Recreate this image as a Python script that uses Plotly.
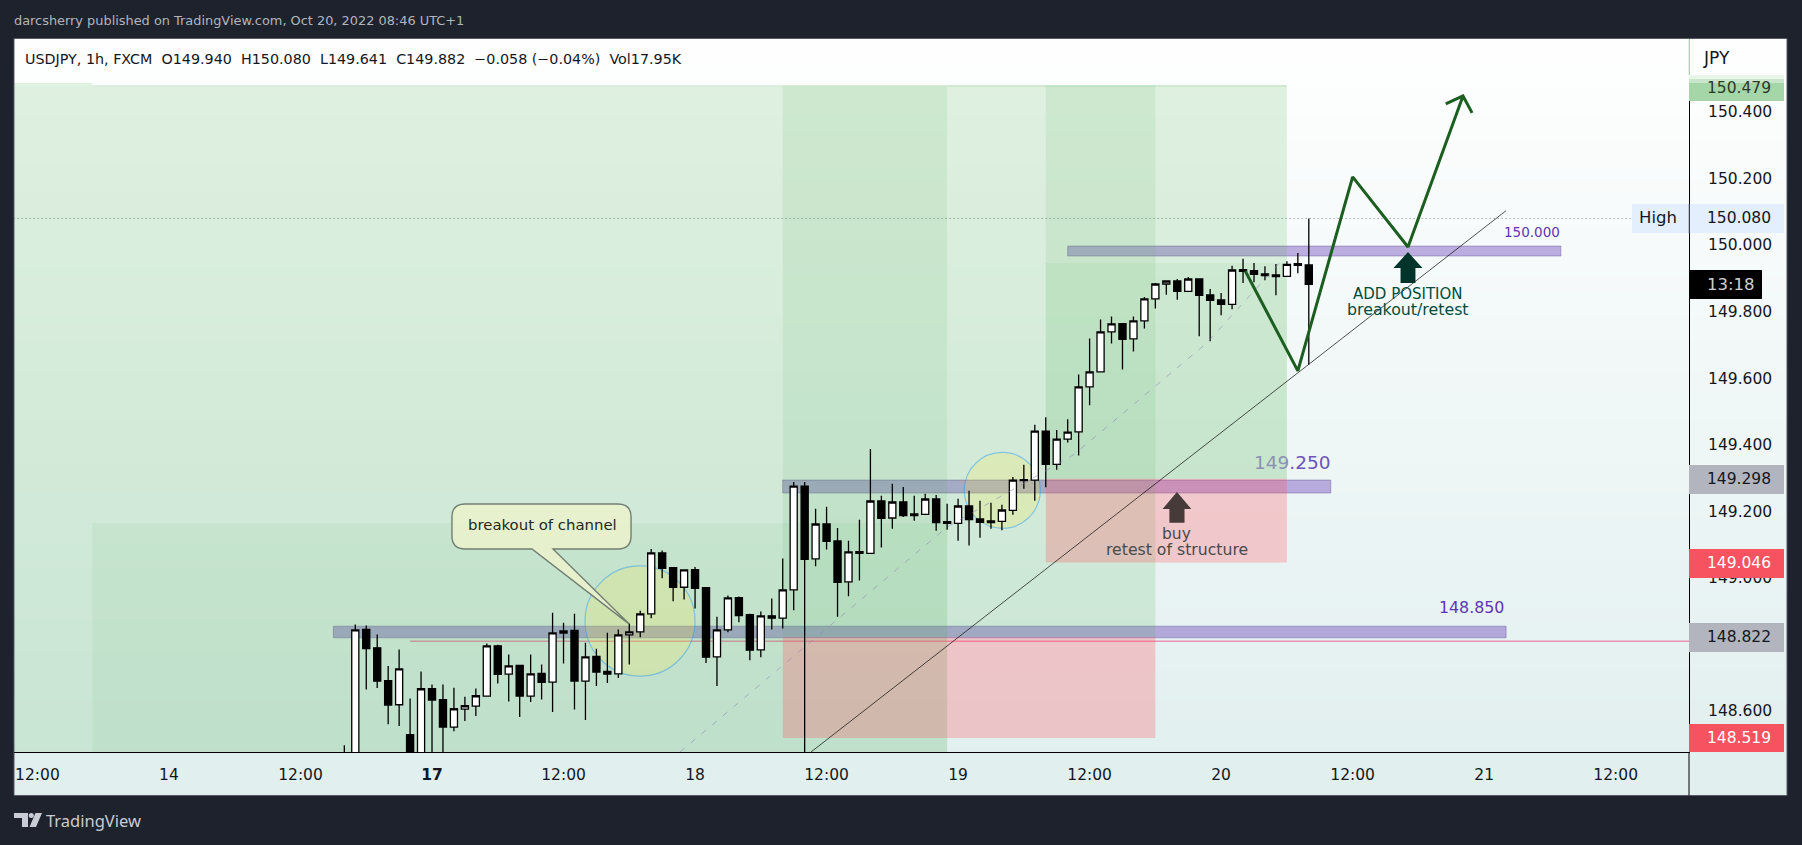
import base64, struct, zlib
import plotly.graph_objects as go

# ---------- data ----------
bar_index = list(range(-8, 81))
opens = [148.44,148.40,148.845,148.79,148.691,148.619,148.529,148.44,148.667,148.634,
         148.552,148.606,148.615,148.645,148.796,148.711,148.737,148.645,148.713,148.687,
         148.834,148.842,148.69,148.764,148.719,148.712,148.829,148.838,148.892,149.075,
         149.031,148.972,149.025,148.971,148.763,148.844,148.941,148.89,148.784,148.886,
         148.879,148.964,149.276,149.057,149.162,149.111,148.988,149.079,149.074,149.231,
         149.18,149.228,149.192,149.191,149.237,149.169,149.164,149.216,149.177,149.171,
         149.17,149.203,149.295,149.294,149.441,149.341,149.417,149.439,149.574,149.619,
         149.739,149.764,149.718,149.772,149.838,149.883,149.892,149.861,149.898,149.85,
         149.835,149.822,149.926,149.923,149.913,149.91,149.906,149.944,149.940]
highs = [148.497,148.86,148.857,148.83,148.735,148.785,148.638,148.719,148.68,148.68,
         148.67,148.643,148.668,148.803,148.799,148.77,148.739,148.77,148.74,148.895,
         148.865,148.892,148.805,148.787,148.835,148.845,148.863,148.901,149.087,149.082,
         149.033,149.026,149.033,148.971,148.883,148.947,148.944,148.892,148.899,148.938,
         149.058,149.288,149.288,149.208,149.214,149.15,149.112,149.175,149.387,149.247,
         149.283,149.273,149.247,149.253,149.249,149.223,149.238,149.262,149.232,149.226,
         149.22,149.303,149.34,149.46,149.483,149.444,149.477,149.611,149.719,149.776,
         149.785,149.766,149.785,149.844,149.886,149.893,149.898,149.904,149.899,149.868,
         149.856,149.938,149.959,149.946,149.936,149.943,149.951,149.976,150.080]
lows = [148.38,148.38,148.665,148.669,148.56,148.555,148.40,148.40,148.45,148.45,
        148.539,148.57,148.585,148.645,148.683,148.629,148.582,148.627,148.635,148.597,
        148.743,148.605,148.573,148.675,148.684,148.699,148.74,148.822,148.879,148.999,
        148.93,148.935,148.908,148.744,148.675,148.837,148.867,148.753,148.762,148.845,
        148.848,148.903,148.40,149.035,149.085,148.883,148.945,148.992,149.074,149.091,
        149.148,149.183,149.172,149.191,149.142,149.145,149.112,149.097,149.121,149.148,
        149.143,149.19,149.268,149.232,149.272,149.325,149.407,149.368,149.519,149.619,
        149.704,149.626,149.68,149.749,149.809,149.851,149.836,149.861,149.726,149.711,
        149.789,149.807,149.886,149.888,149.894,149.849,149.904,149.915,149.641]
closes = [148.42,148.844,148.788,148.69,148.618,148.727,148.43,148.667,148.633,148.552,
          148.607,148.616,148.646,148.796,148.71,148.736,148.645,148.712,148.686,148.835,
          148.841,148.69,148.763,148.717,148.711,148.829,148.838,148.892,149.075,149.029,
          148.972,149.024,148.969,148.762,148.844,148.94,148.887,148.783,148.886,148.879,
          148.964,149.276,149.056,149.162,149.11,148.987,149.078,149.074,149.231,149.179,
          149.228,149.187,149.187,149.237,149.166,149.164,149.216,149.175,149.167,149.166,
          149.204,149.294,149.292,149.441,149.341,149.417,149.438,149.574,149.619,149.739,
          149.763,149.717,149.772,149.838,149.883,149.892,149.861,149.898,149.849,149.834,
          149.822,149.925,149.921,149.912,149.908,149.905,149.942,149.939,149.882]

time_tick_pos = [-36,-24,-12,0,12,24,36,48,60,72,84,96,108]
time_tick_text = ["12:00","14","12:00","<b>17</b>","12:00","18","12:00","19","12:00","20","12:00","21","12:00"]
price_ticks = [150.4,150.2,150.0,149.8,149.6,149.4,149.2,149.0,148.8,148.6]

# drawing tools, in bar index / price units
zigzag_x = [74.2,79.0,84.0,89.05,94.07,92.5,94.07,94.9]
zigzag_y = [149.922,149.622,150.205,149.994,150.448,150.424,150.448,150.397]
trend_x = [34.58,97.99]
trend_y = [148.477,150.103]
dash_x = [22.63,47,58.5,70.7,77.4]
dash_y = [148.477,149.153,149.369,149.706,149.949]

# ---------- layout geometry ----------
W, H = 1802, 845
L, R, T, B = 14, 1689, 39, 752
x_range = [-38.14, 114.69]
y_range = [148.477, 150.619]
def PX(v): return (v - L) / (R - L)
def PY(v): return (B - v) / (B - T)

def gradient_png():
    rows = []
    n = 757
    for i in range(n):
        f = i / (n - 1)
        c = (int(255 + (225 - 255) * f), int(255 + (239 - 255) * f), int(255 + (239 - 255) * f))
        rows.append(b"\x00" + bytes(c) * 4)
    def chunk(t, d):
        return struct.pack(">I", len(d)) + t + d + struct.pack(">I", zlib.crc32(t + d) & 0xffffffff)
    raw = b"\x89PNG\r\n\x1a\n" + chunk(b"IHDR", struct.pack(">IIBBBBB", 4, n, 8, 2, 0, 0, 0)) \
        + chunk(b"IDAT", zlib.compress(b"".join(rows))) + chunk(b"IEND", b"")
    return "data:image/png;base64," + base64.b64encode(raw).decode()

FONT = "DejaVu Sans"
def GREEN(a): return f"rgba(76,175,80,{a})"
RED = "rgba(255,82,95,0.28)"
BAR = "rgba(103,58,183,0.40)"
BARL = "rgba(90,70,140,0.40)"

shapes = []
def rect(x0, x1, y0, y1, fill, line=None, layer="below"):
    shapes.append(dict(type="rect", xref="x", yref="y", x0=x0, x1=x1, y0=y0, y1=y1,
                       fillcolor=fill, layer=layer,
                       line=dict(width=1 if line else 0, color=line or "rgba(0,0,0,0)")))
def prect(x0, x1, y0, y1, fill):
    shapes.append(dict(type="rect", xref="paper", yref="paper", x0=PX(x0), x1=PX(x1), y0=PY(y0), y1=PY(y1),
                       fillcolor=fill, layer="above", line=dict(width=0)))
def pline(x0, y0, x1, y1, color, width=1):
    shapes.append(dict(type="line", xref="paper", yref="paper", x0=PX(x0), x1=PX(x1), y0=PY(y0), y1=PY(y1),
                       layer="above", line=dict(color=color, width=width)))

# level bars first, zones on top of them
rect(-9, 98, 148.82, 148.855, BAR, BARL)
rect(32, 82, 149.255, 149.294, BAR, BARL)
rect(58, 103, 149.967, 149.997, BAR, BARL)
shapes.append(dict(type="line", xref="x", yref="y", x0=-2, x1=114.69, y0=148.81, y1=148.81, layer="below",
                   line=dict(color="rgba(233,30,99,0.45)", width=1.5)))

# position zones
rect(-40, -31, 150.476, 150.487, GREEN(0.17))
rect(-40, 47, 148.3, 150.476, GREEN(0.17))
rect(-31, 47, 148.3, 149.165, GREEN(0.07))
rect(32, 47, 148.822, 150.479, GREEN(0.11))
rect(47, 66, 148.822, 150.479, GREEN(0.17))
rect(32, 66, 148.519, 148.822, RED)
rect(56, 66, 149.298, 150.479, GREEN(0.11))
rect(66, 78, 149.298, 150.479, GREEN(0.17))
rect(56, 78, 149.298, 149.946, GREEN(0.08))
rect(56, 78, 149.046, 149.298, RED)
for x0, x1 in [(-31, 32), (32, 78)]:
    shapes.append(dict(type="line", xref="x", yref="y", x0=x0, x1=x1, y0=150.478, y1=150.478, layer="below",
                       line=dict(color=GREEN(0.3), width=1)))

# circles
for cx0, cx1, cy0, cy1 in [(13.96, 24.0, 148.705, 149.036), (48.57, 55.5, 149.149, 149.377)]:
    shapes.append(dict(type="circle", xref="x", yref="y", x0=cx0, x1=cx1, y0=cy0, y1=cy1, layer="below",
                       fillcolor="rgba(255,235,59,0.20)", line=dict(color="rgba(33,150,243,0.45)", width=1.2)))

# high dotted line
shapes.append(dict(type="line", xref="x", yref="y", x0=-40, x1=109.5, y0=150.08, y1=150.08, layer="below",
                   line=dict(color="rgba(90,90,90,0.8)", width=1, dash="1px,3px")))

# up arrows
def up_arrow(cx, top, shoulder, bottom, hw, sw, color):
    p = (f"M{cx},{top} L{cx+hw},{shoulder} L{cx+sw},{shoulder} L{cx+sw},{bottom} "
         f"L{cx-sw},{bottom} L{cx-sw},{shoulder} L{cx-hw},{shoulder} Z")
    shapes.append(dict(type="path", xref="x", yref="y", path=p, fillcolor=color, layer="above", line=dict(width=0)))
up_arrow(89.05, 149.979, 149.931, 149.886, 1.32, 0.68, "#00332a")
up_arrow(67.97, 149.258, 149.207, 149.166, 1.31, 0.69, "#463b39")

# speech bubble
bx0, bx1, by0, by1 = 1.82, 18.16, 149.087, 149.222
rx, ry = 1.2, 0.039
bubble = (f"M{bx0+rx},{by1} L{bx1-rx},{by1} Q{bx1},{by1} {bx1},{by1-ry} L{bx1},{by0+ry} Q{bx1},{by0} {bx1-rx},{by0} "
          f"L11.04,{by0} L17.97,148.862 L9.12,{by0} L{bx0+rx},{by0} Q{bx0},{by0} {bx0},{by0+ry} L{bx0},{by1-ry} Q{bx0},{by1} {bx0+rx},{by1} Z")
shapes.append(dict(type="path", xref="x", yref="y", path=bubble, layer="above",
                   fillcolor="rgba(233,241,204,0.93)", line=dict(color="#727e72", width=1.4)))

# frame pieces and price labels
prect(1689, 1784, 75, 101, "#a5d6a7")
prect(1689, 1784, 75, 79, "#e9f5e9")
prect(1689, 1784, 79, 83, "#c9e6ca")
prect(1632, 1784, 204, 233, "#e3effd")
prect(1689, 1762, 270, 299, "#000000")
prect(1689, 1784, 465, 494, "#b2b5be")
prect(1689, 1784, 549, 578, "#f7525f")
prect(1689, 1784, 623, 652, "#b2b5be")
prect(1689, 1784, 724, 752, "#f7525f")
pline(1689, 752, 1689, 795.5, "#000000", 1)
prect(1688, 1690.5, 39, 75, "#ffffff")
prect(1688.7, 1690, 39, 75, "#a5d6a7")
pline(1689.3, 204, 1689.3, 233, "#131722", 1)
shapes.append(dict(type="rect", xref="paper", yref="paper", x0=PX(14), x1=PX(1787), y0=PY(795.5), y1=PY(38.5),
                   layer="below", fillcolor="rgba(0,0,0,0)", line=dict(color="#555964", width=1)))
# TradingView logo
def plogo(points):
    p = "M" + " L".join(f"{PX(a)},{PY(b)}" for a, b in points) + " Z"
    shapes.append(dict(type="path", xref="paper", yref="paper", path=p, layer="above",
                       fillcolor="#c9ccd4", line=dict(width=0)))
plogo([(14,813),(28,813),(28,827),(22,827),(22,818),(14,818)])
plogo([(35.5,813),(42,813),(36,827),(29.5,827)])
shapes.append(dict(type="circle", xref="paper", yref="paper", x0=PX(28.8), x1=PX(33.8), y0=PY(818), y1=PY(813),
                   layer="above", fillcolor="#c9ccd4", line=dict(width=0)))

# ---------- annotations ----------
ann = []
def data_text(x, y, text, size, color):
    ann.append(dict(xref="x", yref="y", x=x, y=y, text=text, showarrow=False, xanchor="center", yanchor="middle",
                    font=dict(family=FONT, size=size, color=color)))
def page_text(px, py, text, size, color, anchor="left", family=FONT):
    ann.append(dict(xref="paper", yref="paper", x=PX(px - 2), y=PY(py), text=text, showarrow=False, xanchor=anchor,
                    yanchor="middle", font=dict(family=family, size=size, color=color)))

data_text(10.04, 149.159, "breakout of channel", 14.9, "#1d2a1d")
data_text(100.4, 150.039, "150.000", 13.5, "#5e35b1")
data_text(94.8, 148.91, "148.850", 15.8, "#5e35b1")
data_text(78.5, 149.348, "<span style='color:#8a93b4'>149</span>.250", 18.5, "#6a55ba")
data_text(89.05, 149.853, "ADD POSITION", 15, "#004d40")
data_text(89.05, 149.805, "breakout/retest", 15.8, "#004d40")
data_text(67.97, 149.132, "buy", 15.5, "#4a4a4a")
data_text(67.97, 149.084, "retest of structure", 15.7, "#4a4a4a")

page_text(14, 21, "darcsherry published on TradingView.com, Oct 20, 2022 08:46 UTC+1", 12.9, "#b2b5be")
page_text(25, 59, "USDJPY, 1h, FXCM&nbsp; O149.940&nbsp; H150.080&nbsp; L149.641&nbsp; C149.882&nbsp; −0.058 (−0.04%)&nbsp; Vol17.95K", 14.3, "#131722")
page_text(1703, 58, "JPY", 17, "#131722")
page_text(1707, 88, "150.479", 15.5, "#2a3a2a")
page_text(1639, 217, "High", 16.5, "#131722")
page_text(1707, 218, "150.080", 15.5, "#131722")
page_text(1707, 284, "13:18", 16.5, "#cfd0d2")
page_text(1707, 479, "149.298", 15.5, "#131722")
page_text(1707, 563, "149.046", 15.5, "#ffffff")
page_text(1707, 637, "148.822", 15.5, "#131722")
page_text(1707, 738, "148.519", 15.5, "#ffffff")
page_text(46, 821, "TradingView", 16.5, "#c9ccd4", family="Noto Sans")

# ---------- traces ----------
fig = go.Figure()
fig.add_trace(go.Scatter(x=dash_x, y=dash_y, mode="lines", hoverinfo="skip",
                         line=dict(color="rgba(140,130,180,0.55)", width=1, dash="6px,8px")))
fig.add_trace(go.Candlestick(x=bar_index, open=opens, high=highs, low=lows, close=closes, whiskerwidth=0,
                             increasing=dict(fillcolor="#ffffff", line=dict(color="#000000", width=1.3)),
                             decreasing=dict(fillcolor="#000000", line=dict(color="#000000", width=1.3))))
fig.add_trace(go.Scatter(x=trend_x, y=trend_y, mode="lines", hoverinfo="skip",
                         line=dict(color="rgba(10,10,10,0.7)", width=1)))
fig.add_trace(go.Scatter(x=zigzag_x, y=zigzag_y, mode="lines", hoverinfo="skip",
                         line=dict(color="#1b5e20", width=3)))

fig.update_layout(
    width=W, height=H, showlegend=False, autosize=False,
    margin=dict(l=L, r=W - R, t=T, b=H - B, pad=0),
    paper_bgcolor="#1e222d", plot_bgcolor="rgba(0,0,0,0)",
    font=dict(family=FONT, color="#131722", size=15.5),
    boxgap=0.28, boxgroupgap=0.1, shapes=shapes, annotations=ann,
    images=[dict(source=gradient_png(), xref="paper", yref="paper", x=PX(14), y=PY(39), sizex=PX(1787) - PX(14),
                 sizey=PY(39) - PY(796), xanchor="left", yanchor="top", sizing="stretch", layer="below")],
    xaxis=dict(range=x_range, rangeslider=dict(visible=False), showgrid=False, zeroline=False,
               tickmode="array", tickvals=time_tick_pos, ticktext=time_tick_text, ticks="",
               showline=True, linecolor="#000000", linewidth=1, ticklabelstandoff=8,
               tickfont=dict(family=FONT, size=15.5, color="#131722")),
    yaxis=dict(range=y_range, side="right", showgrid=False, zeroline=False,
               tickmode="array", tickvals=price_ticks, ticktext=[f"{v:.3f}" for v in price_ticks], ticks="",
               showline=True, linecolor="#000000", linewidth=1, ticklabelstandoff=15,
               tickfont=dict(family=FONT, size=15.5, color="#131722")),
)
fig.write_html("out.html", config=dict(displayModeBar=False),
               post_script="document.body.style.margin='0';document.body.style.background='#1e222d';document.body.style.overflow='hidden';")
